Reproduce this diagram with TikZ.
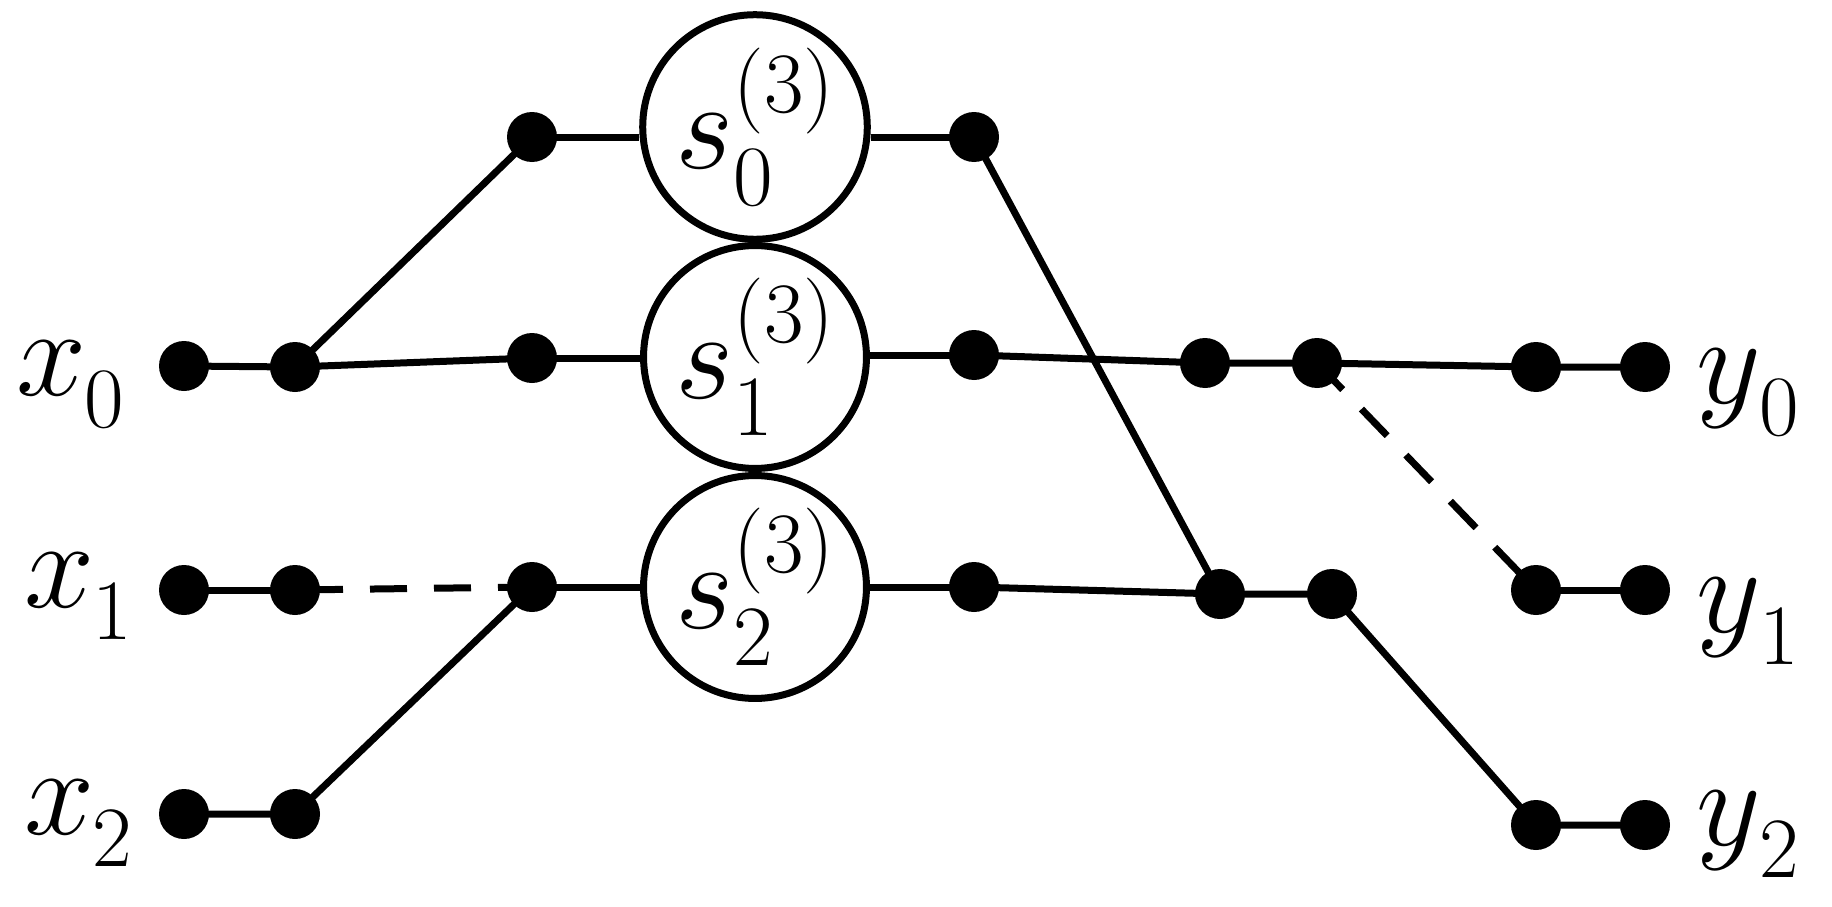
\RequirePackage{fix-cm}
\documentclass[tikz,border=0pt]{standalone}
\newcommand\mainfs{\fontsize{126}{134}\selectfont}
\newcommand\scrfs{\fontsize{86}{94}\selectfont}
\newcommand\iolab[3]{{\mainfs$#1$}\kern#3\raisebox{-32pt}{\scrfs #2}}
\newcommand\slab[1]{{\mainfs$s$}\kern0pt\rlap{\raisebox{-37pt}{\scrfs #1}}\raisebox{56pt}{\scrfs (3)}}
\begin{document}
\begin{tikzpicture}[x=1pt,y=-1pt,
  dot/.style={circle,fill=black,inner sep=0pt,minimum size=50pt},
  sbox/.style={circle,draw=black,line width=7pt,fill=white,inner sep=0pt,minimum size=222pt},
  wire/.style={line width=7pt},
  dwire/.style={line width=7pt,dash pattern=on 37pt off 27pt},
  lab/.style={anchor=base west,inner sep=0pt}]
\useasboundingbox (0,0) rectangle (1832,907);
% dots
\node[dot] (A0) at (184,366) {};
\node[dot] (B0) at (295,367) {};
\node[dot] (C0) at (532,137) {};
\node[dot] (C1) at (532,358) {};
\node[dot] (D0) at (974,137) {};
\node[dot] (D1) at (974,355) {};
\node[dot] (E1) at (1205,363) {};
\node[dot] (F1) at (1317,363) {};
\node[dot] (G0) at (1536,367) {};
\node[dot] (I0) at (1645,367) {};
\node[dot] (A1) at (184,590) {};
\node[dot] (B1) at (295,590) {};
\node[dot] (C2) at (532,587) {};
\node[dot] (D2) at (974,587) {};
\node[dot] (E2) at (1220,594) {};
\node[dot] (F2) at (1332,594) {};
\node[dot] (H1) at (1536,590) {};
\node[dot] (I1) at (1645,590) {};
\node[dot] (A2) at (184,814) {};
\node[dot] (B2) at (295,814) {};
\node[dot] (H2) at (1536,825) {};
\node[dot] (I2) at (1645,825) {};
% processing circles
\node[sbox] (s0) at (755,127) {\slab{0}};
\node[sbox] (s1) at (755,357) {\slab{1}};
\node[sbox] (s2) at (755,587) {\slab{2}};
% labels
\node[lab] (lx0) at (16,395) {\iolab{x}{0}{-2pt}};
\node[lab] (lx1) at (24,607) {\iolab{x}{1}{-2pt}};
\node[lab] (lx2) at (24,834) {\iolab{x}{2}{-2pt}};
\node[lab] (ly0) at (1696,403) {\iolab{y}{0}{-1pt}};
\node[lab] (ly1) at (1696,632) {\iolab{y}{1}{-1pt}};
\node[lab] (ly2) at (1696,845) {\iolab{y}{2}{-1pt}};
% wires
\draw[wire] (A0.center) -- (B0.center) -- (C1.center);
\draw[wire] (B0.center) -- (C0.center);
\draw[wire] (C0.center) -- (C0.center -| s0.west);
\draw[wire] (D0.center) -- (D0.center -| s0.east);
\draw[wire] (C1.center) -- (C1.center -| s1.west);
\draw[wire] (D1.center) -- (D1.center -| s1.east);
\draw[wire] (C2.center) -- (C2.center -| s2.west);
\draw[wire] (D2.center) -- (D2.center -| s2.east);
\draw[wire] (D1.center) -- (E1.center) -- (F1.center) -- (G0.center) -- (I0.center);
\draw[wire] (D0.center) -- (E2.center);
\draw[wire] (D2.center) -- (E2.center) -- (F2.center) -- (H2.center) -- (I2.center);
\draw[wire] (H1.center) -- (I1.center);
\draw[wire] (A1.center) -- (B1.center);
\draw[wire] (A2.center) -- (B2.center) -- (C2.center);
\draw[dwire,dash phase=53pt] (B1.center) -- (C2.center);
\draw[dwire] (F1.center) -- (H1.center);
\end{tikzpicture}
\end{document}
